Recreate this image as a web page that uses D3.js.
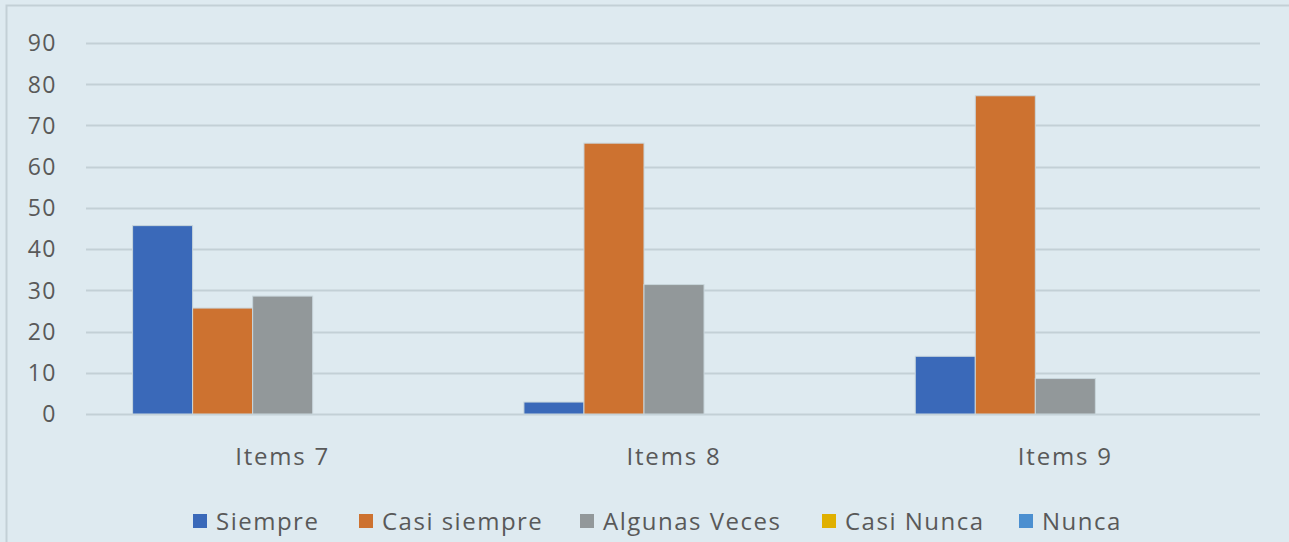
<!DOCTYPE html>
<html>
<head>
<meta charset="utf-8">
<script src="https://cdn.jsdelivr.net/npm/d3@7"></script>
<style>
  body { margin: 0; background: #deeaf0; }
  svg text { font-family: "Open Sans", sans-serif; fill: #595959; }
</style>
</head>
<body>
<div id="chart"></div>
<script>
var categories = ["Items 7", "Items 8", "Items 9"];
var seriesNames = ["Siempre", "Casi siempre", "Algunas Veces", "Casi Nunca", "Nunca"];
var siempre = [45.7, 2.9, 14.0];
var casiSiempre = [25.7, 65.7, 77.2];
var algunasVeces = [28.6, 31.4, 8.6];
var casiNunca = [0, 0, 0];
var nunca = [0, 0, 0];
var yTicks = [0, 10, 20, 30, 40, 50, 60, 70, 80, 90];
var colors = ["#3a69b9", "#cd7230", "#92989a", "#e0b000", "#4b8fd0"];

var seriesValues = [siempre, casiSiempre, algunasVeces, casiNunca, nunca];

var width = 1289;
var height = 542;
var margin = {top: 43, left: 86, right: 29, bottom: 128};

var svg = d3.select("#chart")
    .append("svg")
    .attr("width", width)
    .attr("height", height);

svg.append("rect")
    .attr("x", 0).attr("y", 0)
    .attr("width", width).attr("height", height)
    .style("fill", "#deeaf0");

// chart frame (only top & left visible)
svg.append("path")
    .attr("d", "M6.5," + height + "V5.5H" + width)
    .style("fill", "none")
    .style("stroke", "#c3d0d6")
    .style("stroke-width", 2);

var y = d3.scaleLinear()
    .domain([0, 90])
    .range([height - margin.bottom, margin.top]);

var x0 = d3.scaleBand()
    .domain(categories)
    .range([margin.left, width - margin.right])
    .paddingInner(0.233)
    .paddingOuter(0.1165);

var x1 = d3.scaleBand()
    .domain(seriesNames)
    .range([0, x0.bandwidth()]);

// gridlines
svg.append("g")
    .selectAll("line")
    .data(yTicks)
    .enter().append("line")
    .attr("x1", margin.left)
    .attr("x2", width - margin.right)
    .attr("y1", function(d) { return Math.round(y(d)) + 0.5; })
    .attr("y2", function(d) { return Math.round(y(d)) + 0.5; })
    .style("stroke", "#c3d0d6")
    .style("stroke-width", 2);

// y tick labels
svg.append("g")
    .selectAll("text")
    .data(yTicks)
    .enter().append("text")
    .attr("x", 57)
    .attr("y", function(d) { return y(d); })
    .attr("dy", "0.36em")
    .attr("text-anchor", "end")
    .style("font-size", "23px")
    .style("letter-spacing", "1.5px")
    .text(function(d) { return d; });

// bars
var groups = svg.append("g")
    .selectAll("g")
    .data(categories)
    .enter().append("g")
    .attr("transform", function(d) { return "translate(" + x0(d) + ",0)"; });

groups.selectAll("rect")
    .data(function(d, i) {
        return seriesNames.map(function(s, j) {
            return {series: s, value: seriesValues[j][i], color: colors[j]};
        });
    })
    .enter().append("rect")
    .attr("x", function(d) { return x1(d.series) + 1; })
    .attr("y", function(d) { return y(d.value); })
    .attr("width", x1.bandwidth())
    .attr("height", function(d) { return y(0) - y(d.value); })
    .style("fill", function(d) { return d.color; })
    .style("stroke", function(d) { return d.value > 0 ? "#c8d6dc" : "none"; })
    .style("stroke-width", 1);

// category labels
svg.append("g")
    .selectAll("text")
    .data(categories)
    .enter().append("text")
    .attr("x", function(d) { return x0(d) + x0.bandwidth() / 2 + 1; })
    .attr("y", 465)
    .attr("text-anchor", "middle")
    .style("font-size", "24px")
    .style("letter-spacing", "1.8px")
    .text(function(d) { return d; });

// legend
var legendX = [193, 359, 580, 822, 1019];
var legend = svg.append("g")
    .selectAll("g")
    .data(seriesNames)
    .enter().append("g")
    .attr("transform", function(d, i) { return "translate(" + legendX[i] + ",514)"; });

legend.append("rect")
    .attr("width", 14)
    .attr("height", 14)
    .style("fill", function(d, i) { return colors[i]; });

legend.append("text")
    .attr("x", 23)
    .attr("y", 16)
    .style("font-size", "24px")
    .style("letter-spacing", "1.5px")
    .text(function(d) { return d; });
</script>
</body>
</html>
